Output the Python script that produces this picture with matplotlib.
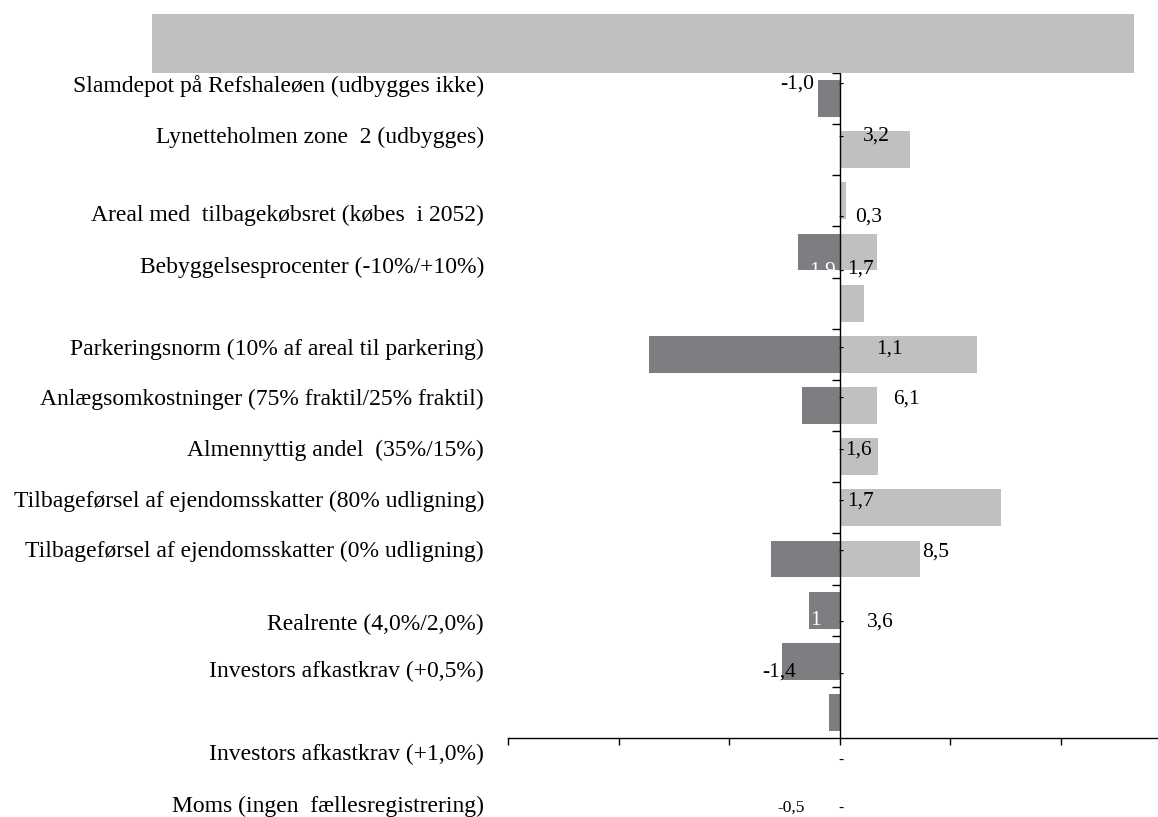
import matplotlib
matplotlib.use("Agg")
import matplotlib.pyplot as plt
from matplotlib.patches import Rectangle

plt.rcParams['font.family'] = ['Liberation Serif', 'DejaVu Serif']

# ---- data ----
categories = [
    "Slamdepot på Refshaleøen (udbygges ikke)",
    "Lynetteholmen zone  2 (udbygges)",
    "Areal med  tilbagekøbsret (købes  i 2052)",
    "Bebyggelsesprocenter (-10%/+10%)",
    "Parkeringsnorm (10% af areal til parkering)",
    "Anlægsomkostninger (75% fraktil/25% fraktil)",
    "Almennyttig andel  (35%/15%)",
    "Tilbageførsel af ejendomsskatter (80% udligning)",
    "Tilbageførsel af ejendomsskatter (0% udligning)",
    "Realrente (4,0%/2,0%)",
    "Investors afkastkrav (+0,5%)",
    "Investors afkastkrav (+1,0%)",
    "Moms (ingen  fællesregistrering)",
]
# where each category label sits (in row units, labels are offset in the source)
label_rows = [-0.25, 0.75, 2.28, 3.31, 4.90, 5.89, 6.87, 7.87, 8.86, 10.29, 11.19, 12.83, 13.83]

low_values = [-1.0, 0, 0, -1.9, 0, -8.6, -1.7, 0, 0, -3.1, -1.4, -2.6, -0.5]
high_values = [0, 3.2, 0.3, 1.7, 1.1, 6.2, 1.7, 1.75, 7.3, 3.65, 0, 0, 0]

# data labels: text, x anchor (data), row (data), color
value_texts = ["-1,0", "3,2", "0,3", "1,9", "1,7", "1,1", "6,1", "1,6", "1,7", "8,5", "1", "3,6", "-1,4"]
value_x = [-2.67, 1.04, 0.72, -1.40, 0.36, 1.67, 2.44, 0.27, 0.32, 3.71, -1.31, 1.22, -3.48]
value_rows = [-0.28, 0.73, 2.32, 3.37, 3.33, 4.89, 5.87, 6.87, 7.87, 8.86, 10.21, 10.23, 11.21]
value_white = [False, False, False, True, False, False, False, False, False, False, True, False, False]

small_text = "-0,5"
small_x = -2.80
small_row = 13.87

dash_rows = [-0.28, 0.75, 2.32, 3.37, 4.89, 5.87, 6.87, 7.87, 8.86, 10.23, 11.25, 12.93, 13.87]

x_ticks = [-15, -10, -5, 0, 5, 10]

DARK = "#7e7d82"
LIGHT = "#c0c0c0"

fig = plt.figure(figsize=(11.58, 8.17), dpi=100)
ax = fig.add_axes([508 / 1158, 1 - 738 / 817, 650 / 1158, (738 - 73) / 817])

rows = list(range(len(categories)))
ax.barh(rows, low_values, height=0.72, color=DARK, zorder=2)
ax.barh(rows, high_values, height=0.72, color=LIGHT, zorder=2)

ax.set_xlim(-15, 14.4)
ax.set_ylim(len(categories) - 0.5, -0.5)

for s in ['top', 'right']:
    ax.spines[s].set_visible(False)
ax.spines['left'].set_position(('data', 0))
ax.spines['left'].set_zorder(3)
ax.spines['bottom'].set_linewidth(1.0)
ax.spines['left'].set_linewidth(1.0)

ax.set_xticks(x_ticks)
ax.set_xticklabels([])
ax.tick_params(axis='x', direction='out', length=5, width=1)
ax.set_yticks([r - 0.5 for r in rows])
ax.set_yticklabels([])
ax.tick_params(axis='y', direction='out', length=6, width=1)

ytr = ax.get_yaxis_transform()
for lab, r in zip(categories, label_rows):
    ax.text(-0.037, r, lab, transform=ytr, ha='right', va='center',
            fontsize=17, clip_on=False)

for t, x, r, w in zip(value_texts, value_x, value_rows, value_white):
    ax.text(x, r, t, ha='left', va='center', fontsize=15.5,
            color='white' if w else 'black', clip_on=False, zorder=4)

ax.text(small_x, small_row, small_text, ha='left', va='center', fontsize=12.5,
        clip_on=False)

for r in dash_rows:
    ax.text(0.08, r, "-", ha='center', va='center', fontsize=11, clip_on=False, zorder=4)

fig.patches.append(Rectangle((152 / 1158, 1 - 73 / 817), (1134 - 152) / 1158, 59 / 817,
                             transform=fig.transFigure, facecolor="#bfbfbf",
                             edgecolor='none'))

fig.savefig("out.png", dpi=100)
